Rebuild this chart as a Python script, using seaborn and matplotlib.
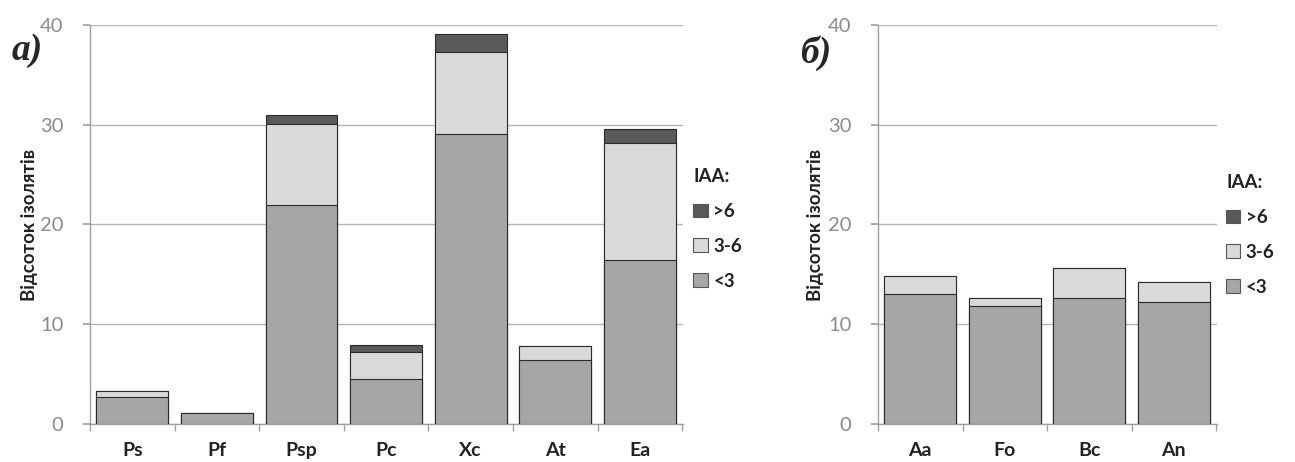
import matplotlib
matplotlib.use("Agg")
import matplotlib.pyplot as plt
import seaborn as sns
import pandas as pd
import numpy as np
from matplotlib.patches import Patch

# ---- data ----
cats_a = ["Ps", "Pf", "Psp", "Pc", "Xc", "At", "Ea"]
low_a = [2.7, 1.1, 22.0, 4.5, 29.1, 6.4, 16.4]     # <3
mid_a = [0.6, 0.0, 8.1, 2.75, 8.2, 1.45, 11.8]     # 3-6
high_a = [0.0, 0.0, 0.9, 0.65, 1.75, 0.0, 1.4]     # >6

cats_b = ["Aa", "Fo", "Bc", "An"]
low_b = [13.0, 11.8, 12.6, 12.2]
mid_b = [1.8, 0.8, 3.0, 2.0]
high_b = [0.0, 0.0, 0.0, 0.0]

yticks = [0, 10, 20, 30, 40]
legend_labels = [">6", "3-6", "<3"]
ylabel = "Відсоток ізолятів"

C_LOW, C_MID, C_HIGH = "#a6a6a6", "#d9d9d9", "#595959"
EDGE = "#2b2b2b"

sns.set_theme(style="white")
plt.rcParams["font.family"] = ["Lato", "DejaVu Sans"]

fig = plt.figure(figsize=(12.95, 4.62), dpi=100)
ax1 = fig.add_axes([90/1295, 1-424/462, 593/1295, 399/462])
ax2 = fig.add_axes([878/1295, 1-424/462, 339/1295, 399/462])


def draw(ax, cats, low, mid, high, legend_y, label_x):
    low = np.array(low); mid = np.array(mid); high = np.array(high)
    df = pd.DataFrame({"cat": cats, "top": low + mid + high,
                       "mid": low + mid, "low": low})
    for col, color in (("top", C_HIGH), ("mid", C_MID), ("low", C_LOW)):
        sns.barplot(data=df, x="cat", y=col, order=cats, color=color,
                    width=0.85, edgecolor=EDGE, linewidth=0.8,
                    saturation=1, ax=ax, zorder=3)
    n = len(cats)
    ax.set_xlim(-0.5, n - 0.5 + 0.01)
    ax.set_ylim(0, 40)
    ax.set_yticks(yticks)
    ax.set_yticklabels([str(t) for t in yticks], color="#8a8a8a", fontsize=14.5)
    ax.set_xticks(range(n))
    ax.set_xticklabels(cats, fontsize=14, fontweight="bold", color="#222222")
    ax.set_xticks(np.arange(-0.5, n, 1.0), minor=True)
    ax.tick_params(axis="x", which="major", length=0, pad=13)
    ax.tick_params(axis="x", which="minor", length=5, color="#a0a0a0",
                   direction="out", bottom=True)
    ax.tick_params(axis="y", length=5, color="#a0a0a0", left=True,
                   direction="out", pad=14)
    ax.set_xlabel("")
    ax.set_ylabel(ylabel, fontsize=13.5, fontweight="bold", color="#222222")
    ax.yaxis.set_label_coords(label_x, 0.5)
    ax.grid(axis="y", color="#b5b5b5", linewidth=1.0, zorder=0)
    ax.set_axisbelow(True)
    for s in ("top", "right"):
        ax.spines[s].set_visible(False)
    for s in ("left", "bottom"):
        ax.spines[s].set_color("#a0a0a0")
        ax.spines[s].set_linewidth(1.0)
    handles = [Patch(facecolor=c, edgecolor="#555555", linewidth=0.8)
               for c in (C_HIGH, C_MID, C_LOW)]
    leg = ax.legend(handles, legend_labels, title="IAA:", loc="upper left",
                    bbox_to_anchor=(1.005, legend_y), frameon=False,
                    prop={"weight": "bold", "size": 13.5},
                    title_fontproperties={"weight": "bold", "size": 13.5},
                    handlelength=0.75, handleheight=0.75, handletextpad=0.3,
                    labelspacing=0.95, borderaxespad=0)
    leg._legend_box.align = "left"
    for t in leg.get_texts():
        t.set_color("#222222")
    leg.get_title().set_color("#222222")


draw(ax1, cats_a, low_a, mid_a, high_a, 0.66, -0.087)
draw(ax2, cats_b, low_b, mid_b, high_b, 0.645, -0.16)

fig.text(12/1295, 1-50/462, "а)", fontsize=27, fontweight="bold",
         fontstyle="italic", family="Liberation Serif", va="center", ha="left")
fig.text(800/1295, 1-53/462, "б)", fontsize=27, fontweight="bold",
         fontstyle="italic", family="Liberation Serif", va="center", ha="left")

fig.savefig("out.png", dpi=100)
